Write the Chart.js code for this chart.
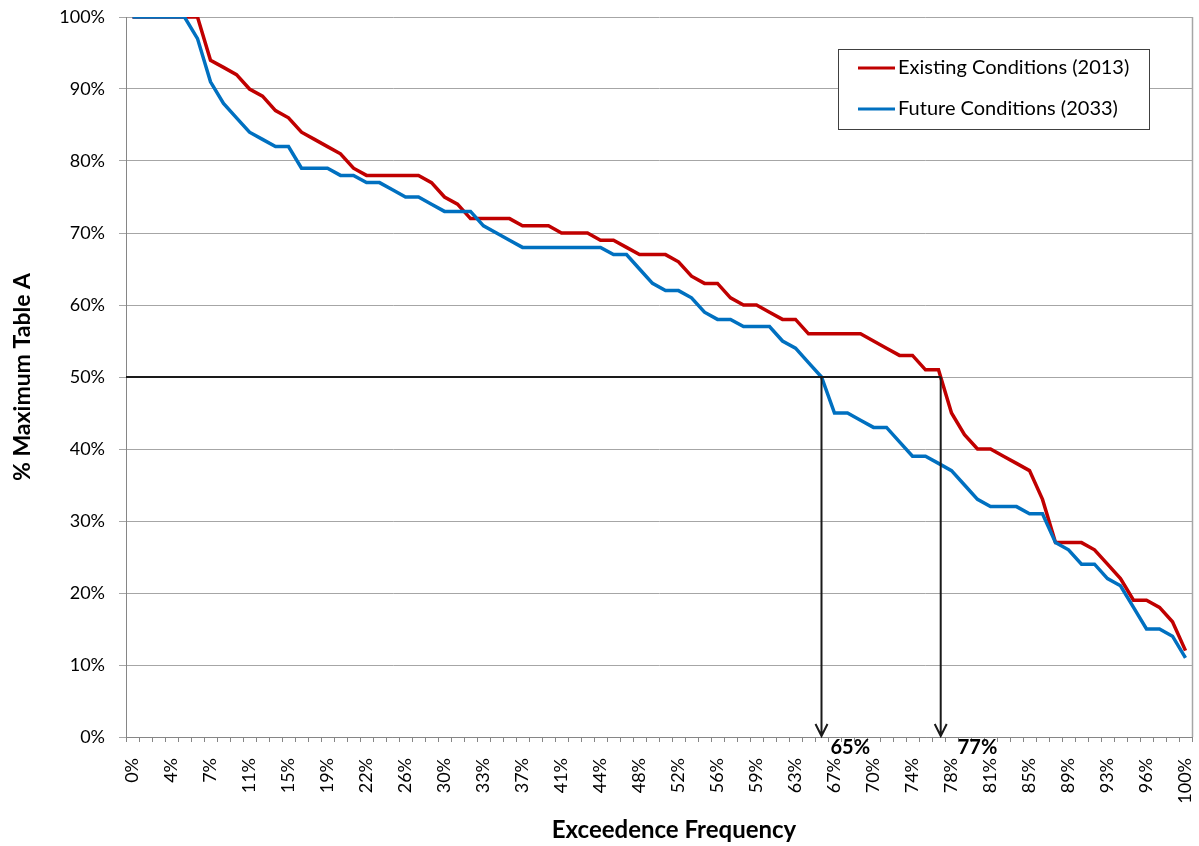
<!DOCTYPE html>
<html>
<head>
<meta charset="utf-8">
<script src="https://cdn.jsdelivr.net/npm/chart.js@4.4.1/dist/chart.umd.min.js"></script>
<style>
  html, body { margin: 0; padding: 0; background: #fff; }
  #wrap { width: 1199px; height: 846px; position: relative; }
</style>
</head>
<body>
<div id="wrap"><canvas id="chart"></canvas></div>
<script>
// exceedence frequency categories (82 points, every third one is labelled)
const frequencyLabels = ['0%','1%','2%','4%','5%','6%','7%','9%','10%','11%','12%','14%','15%','16%','17%','19%',
  '20%','21%','22%','23%','25%','26%','27%','28%','30%','31%','32%','33%','35%','36%','37%','38%','40%','41%',
  '42%','43%','44%','46%','47%','48%','49%','51%','52%','53%','54%','56%','57%','58%','59%','60%','62%','63%',
  '64%','65%','67%','68%','69%','70%','72%','73%','74%','75%','77%','78%','79%','80%','81%','83%','84%','85%',
  '86%','88%','89%','90%','91%','93%','94%','95%','96%','98%','99%','100%'];

const existing2013 = [100,100,100,100,100,100,94,93,92,90,89,87,86,84,83,82,81,79,78,78,78,78,78,77,75,74,
  72,72,72,72,71,71,71,70,70,70,69,69,68,67,67,67,66,64,63,63,61,60,60,59,58,58,56,56,56,56,
  56,55,54,53,53,51,51,45,42,40,40,39,38,37,33,27,27,27,26,24,22,19,19,18,16,12];

const future2033 = [100,100,100,100,100,97,91,88,86,84,83,82,82,79,79,79,78,78,77,77,
  76,75,75,74,73,73,73,71,70,69,68,68,68,68,68,68,68,67,67,65,
  63,62,62,61,59,58,58,57,57,57,55,54,52,50,45,45,44,43,43,41,
  39,39,38,37,35,33,32,32,32,31,31,27,26,24,24,22,21,18,15,15,14,11];

const yTicks = [0, 10, 20, 30, 40, 50, 60, 70, 80, 90, 100];

// 50% threshold and where each curve crosses it (category index)
const threshold = 50;
const crossAt = [53, 62.17];
const crossText = ['65%', '77%'];

const seriesNames = ['Existing Conditions (2013)', 'Future Conditions (2033)'];
const seriesColors = ['#C00000', '#0070C0'];

const FONT = 'Lato, "Open Sans", sans-serif';

const overlay = {
  id: 'overlay',
  afterDatasetsDraw(chart) {
    const { ctx, chartArea: a, scales: { x, y } } = chart;
    ctx.save();

    // right border of plot
    ctx.strokeStyle = '#A6A6A6';
    ctx.lineWidth = 1.5;
    ctx.beginPath();
    ctx.moveTo(a.right + 0.5, a.top);
    ctx.lineTo(a.right + 0.5, a.bottom);
    ctx.stroke();

    // threshold line and arrows
    const y50 = y.getPixelForValue(threshold);
    const y0 = y.getPixelForValue(0);
    const xs = crossAt.map(c => x.getPixelForValue(c));
    ctx.strokeStyle = '#1a1a1a';
    ctx.lineWidth = 2;
    ctx.beginPath();
    ctx.moveTo(a.left, y50);
    ctx.lineTo(Math.max(...xs), y50);
    ctx.stroke();

    ctx.fillStyle = '#000';
    ctx.font = 'bold 20px ' + FONT;
    ctx.textBaseline = 'middle';
    xs.forEach((px, i) => {
      ctx.beginPath();
      ctx.moveTo(px, y50);
      ctx.lineTo(px, y0 - 1);
      ctx.moveTo(px - 6, y0 - 13);
      ctx.lineTo(px, y0 - 1);
      ctx.lineTo(px + 6, y0 - 13);
      ctx.stroke();
      ctx.fillText(crossText[i], px + 9 + i * 8, y0 + 11);
    });

    // x axis title
    ctx.font = 'bold 24px ' + FONT;
    ctx.textAlign = 'center';
    ctx.fillText('Exceedence Frequency', 674, 830);

    // legend
    const bx = 838, by = 49, bw = 311, bh = 80;
    ctx.fillStyle = '#fff';
    ctx.fillRect(bx, by, bw, bh);
    ctx.strokeStyle = '#404040';
    ctx.lineWidth = 1;
    ctx.strokeRect(bx + 0.5, by + 0.5, bw, bh);
    ctx.font = '20px ' + FONT;
    ctx.textAlign = 'left';
    seriesNames.forEach((name, i) => {
      const ly = by + 19 + i * 41;
      ctx.strokeStyle = seriesColors[i];
      ctx.lineWidth = 3;
      ctx.beginPath();
      ctx.moveTo(bx + 20, ly);
      ctx.lineTo(bx + 57, ly);
      ctx.stroke();
      ctx.fillStyle = '#000';
      ctx.fillText(name, bx + 60, ly);
    });

    ctx.restore();
  }
};

new Chart(document.getElementById('chart'), {
  type: 'line',
  data: {
    labels: frequencyLabels,
    datasets: [
      { label: seriesNames[0], data: existing2013, borderColor: seriesColors[0], borderWidth: 3.5, pointRadius: 0, tension: 0, order: 1 },
      { label: seriesNames[1], data: future2033, borderColor: seriesColors[1], borderWidth: 3.5, pointRadius: 0, tension: 0, order: 0 }
    ]
  },
  options: {
    responsive: true,
    maintainAspectRatio: false,
    animation: false,
    layout: { padding: { top: 17, right: 7, left: 0, bottom: 0 } },
    plugins: { legend: { display: false }, tooltip: { enabled: false } },
    scales: {
      x: {
        type: 'category',
        offset: true,
        grid: { offset: true, drawOnChartArea: false, tickLength: 5, color: '#868686' },
        border: { color: '#868686' },
        ticks: {
          autoSkip: false, minRotation: 90, maxRotation: 90, padding: 16, color: '#000',
          font: { family: FONT, size: 18 },
          callback: (v, i) => i % 3 === 0 ? frequencyLabels[i] : ''
        },
        afterFit: s => { s.height = 109; s.paddingLeft = 0; s.paddingRight = 0; }
      },
      y: {
        min: 0, max: 100,
        afterBuildTicks: s => { s.ticks = yTicks.map(v => ({ value: v })); },
        grid: { color: '#A6A6A6', tickLength: 7 },
        border: { color: '#868686' },
        ticks: { padding: 14, color: '#000', font: { family: FONT, size: 18 }, callback: v => v + '%' },
        title: { display: true, text: '% Maximum Table A', color: '#000',
          font: { family: FONT, size: 23, weight: 'bold' }, padding: { top: 9 } },
        afterFit: s => { s.width = 126; s.paddingTop = 0; s.paddingBottom = 0; }
      }
    }
  },
  plugins: [overlay]
});
</script>
</body>
</html>
